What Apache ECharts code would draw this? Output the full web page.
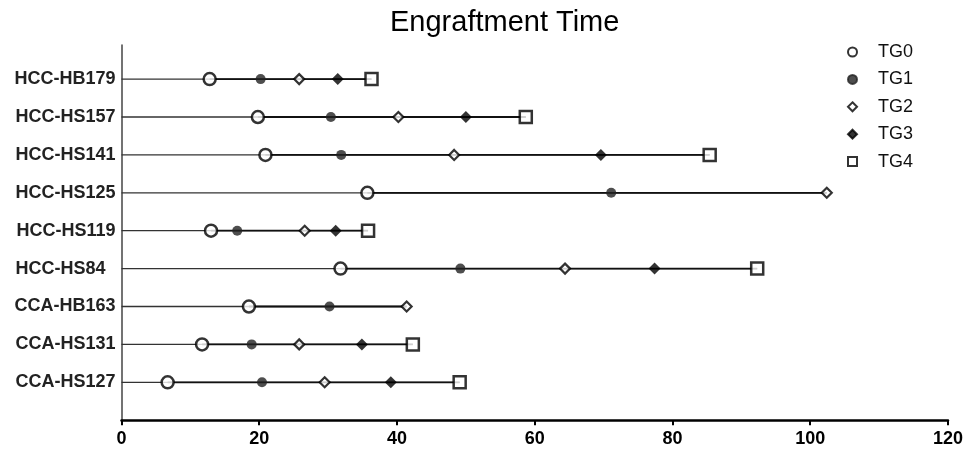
<!DOCTYPE html>
<html>
<head>
<meta charset="utf-8">
<script src="https://cdn.jsdelivr.net/npm/echarts@6/dist/echarts.min.js"></script>
<style>
html,body{margin:0;padding:0;background:#fff;}
#chart{width:966px;height:449px;}
</style>
</head>
<body>
<div id="chart"></div>
<script>
// Categories from bottom (position 1) to top (position 9)
const categories = ['CCA-HS127', 'CCA-HS131', 'CCA-HB163', 'HCC-HS84  ', 'HCC-HS119', 'HCC-HS125', 'HCC-HS141', 'HCC-HS157', 'HCC-HB179'];
const seriesNames = ['TG0', 'TG1', 'TG2', 'TG3', 'TG4'];
// Days per transplant generation (null = not reached)
const TG0 = [6.7, 11.7, 18.5, 31.8, 13.0, 35.7, 20.9, 19.8, 12.8];
const TG1 = [20.4, 18.9, 30.2, 49.2, 16.8, 71.1, 31.9, 30.4, 20.2];
const TG2 = [29.5, 25.8, 41.4, 64.4, 26.6, 102.4, 48.3, 40.2, 25.8];
const TG3 = [39.1, 34.9, null, 77.4, 31.1, null, 69.6, 50.0, 31.4];
const TG4 = [49.1, 42.3, null, 92.3, 35.8, null, 85.4, 58.7, 36.3];
const xTicks = [0, 20, 40, 60, 80, 100, 120];

const groups = [TG0, TG1, TG2, TG3, TG4];
const markerStyles = [
  {symbol: 'circle', size: 12, item: {color: '#fff', borderColor: '#000', borderWidth: 2.5}},
  {symbol: 'circle', size: 10, item: {color: '#222', borderColor: '#222', borderWidth: 0}},
  {symbol: 'diamond', size: 10, item: {color: '#fff', borderColor: '#000', borderWidth: 2.2}},
  {symbol: 'diamond', size: 12, item: {color: '#000', borderColor: '#000', borderWidth: 0}},
  {symbol: 'rect', size: 12, item: {color: '#fff', borderColor: '#000', borderWidth: 2.5}}
];

const series = [];
categories.forEach((c, i) => {
  const pos = i + 1;
  const vals = groups.map(g => g[i]).filter(v => v !== null);
  const last = Math.max.apply(null, vals);
  series.push({
    type: 'line', silent: true, symbol: 'none', z: 1,
    lineStyle: {color: '#333', width: 1.3},
    data: [[0, pos], [last, pos]]
  });
  series.push({
    type: 'line', silent: true, symbol: 'none', z: 2,
    lineStyle: {color: '#111', width: 1.8},
    data: [[vals[0], pos], [last, pos]]
  });
});
groups.forEach((g, k) => {
  const m = markerStyles[k];
  series.push({
    name: seriesNames[k], type: 'scatter', z: 5,
    symbol: m.symbol, symbolSize: m.size,
    itemStyle: m.item,
    data: g.map((v, i) => v === null ? null : [v, i + 1]).filter(d => d !== null)
  });
});

const chart = echarts.init(document.getElementById('chart'));
chart.setOption({
  animation: false,
  backgroundColor: '#fff',
  title: {
    text: 'Engraftment Time', left: 385, top: 3,
    textStyle: {fontFamily: 'Liberation Sans, Arial, sans-serif', fontSize: 29, fontWeight: 'normal', color: '#000'}
  },
  legend: {
    data: seriesNames, orient: 'vertical', left: 842, top: 38,
    itemWidth: 9, itemHeight: 9, itemGap: 9.4,
    itemStyle: {borderWidth: 2},
    textStyle: {fontFamily: 'Liberation Sans, Arial, sans-serif', fontSize: 18, color: '#111', padding: [0, 0, 0, 16]}
  },
  grid: {left: 121.5, right: 18, top: 45, bottom: 26.3, containLabel: false},
  xAxis: {
    type: 'value', min: 0, max: 120, interval: 20,
    splitLine: {show: false},
    axisLine: {lineStyle: {color: '#000', width: 2.5}},
    axisTick: {length: 5, lineStyle: {color: '#000', width: 2}},
    axisLabel: {
      margin: 7,
      fontFamily: 'Liberation Sans, Arial, sans-serif', fontSize: 18, fontWeight: 'bold', color: '#000',
      formatter: v => xTicks.indexOf(v) >= 0 ? String(v) : ''
    }
  },
  yAxis: {
    type: 'value', min: -0.066, max: 9.9,
    splitLine: {show: false},
    axisLine: {show: true, lineStyle: {color: '#444', width: 1.5}},
    axisTick: {show: false},
    axisLabel: {
      customValues: [1, 2, 3, 4, 5, 6, 7, 8, 9],
      margin: 6,
      fontFamily: 'Liberation Sans, Arial, sans-serif', fontSize: 18, fontWeight: 'bold', color: '#222',
      formatter: v => categories[Math.round(v) - 1] || ''
    }
  },
  series: series
});
</script>
</body>
</html>
